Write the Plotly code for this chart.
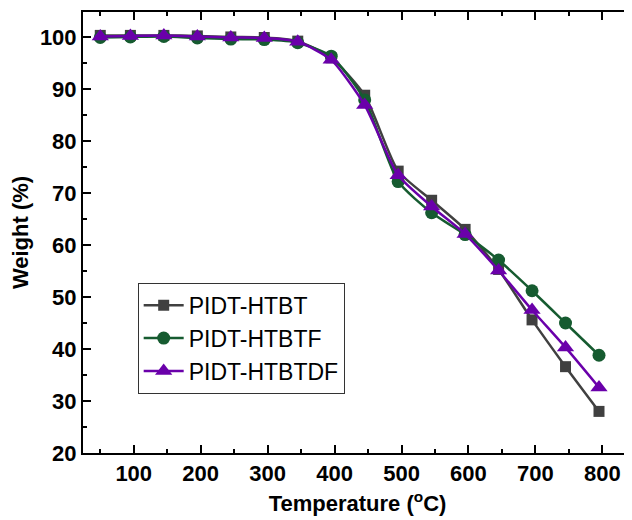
import plotly.graph_objects as go

temperature = [50, 95, 145, 195, 245, 295, 345, 395, 445, 495, 545, 595, 645, 695, 745, 795]
htbt = [100.3, 100.3, 100.3, 100.2, 100.0, 99.9, 99.2, 96.0, 88.8, 74.2, 68.6, 63.0, 55.3, 45.6, 36.6, 28.0]
htbtf = [99.9, 100.0, 100.1, 99.8, 99.6, 99.5, 98.9, 96.3, 87.9, 72.2, 66.2, 62.0, 57.1, 51.2, 45.0, 38.8]
htbtdf = [100.1, 100.2, 100.3, 100.1, 99.9, 99.8, 99.1, 95.6, 86.9, 73.4, 67.4, 62.1, 55.1, 47.5, 40.3, 32.6]

series = [
    ("PIDT-HTBT", htbt, "#404040", "square", 11),
    ("PIDT-HTBTF", htbtf, "#165b30", "circle", 13),
    ("PIDT-HTBTDF", htbtdf, "#6a00aa", "triangle-up", 15),
]

fig = go.Figure()
# invisible companion trace so that the right-hand tick axis is drawn
fig.add_trace(go.Scatter(
    x=temperature, y=htbt, yaxis="y2", mode="lines", showlegend=False,
    hoverinfo="skip", opacity=0, line=dict(width=0),
))
for name, vals, color, sym, size in series:
    fig.add_trace(go.Scatter(
        x=temperature, y=vals, name=name, mode="lines+markers",
        line=dict(color=color, width=2.5, shape="spline", smoothing=0.6),
        marker=dict(symbol=sym, size=size, color=color),
    ))

tick_font = dict(family="Arial, Liberation Sans", size=22, color="black", weight="bold")
axis_common = dict(
    showline=True, linecolor="black", linewidth=2,
    ticks="inside", ticklen=8, tickwidth=2, tickcolor="black",
    showgrid=False, zeroline=False, automargin=False,
    tickfont=tick_font,
)

fig.update_layout(
    xaxis=dict(
        range=[24.2, 844.3], tick0=0, dtick=100, mirror="ticks", **axis_common,
        minor=dict(ticks="inside", ticklen=4, tickwidth=2, tickcolor="black", dtick=50, tick0=0),
        title=dict(text="Temperature (<sup>o</sup>C)", standoff=10,
                   font=dict(family="Arial, Liberation Sans", size=22, color="black", weight="bold")),
    ),
    yaxis=dict(
        range=[20, 104.8], tick0=20, dtick=10, mirror=False, **axis_common,
        minor=dict(ticks="inside", ticklen=4, tickwidth=2, tickcolor="black", dtick=5, tick0=20),
        title=dict(text="Weight (%)", standoff=8,
                   font=dict(family="Arial, Liberation Sans", size=22, color="black", weight="bold")),
    ),
    yaxis2=dict(
        overlaying="y", side="right", anchor="x",
        range=[20, 104.8], tick0=20, dtick=10, automargin=False,
        showline=False, showticklabels=False, showgrid=False, zeroline=False,
        ticks="inside", ticklen=8, tickwidth=2, tickcolor="black",
        minor=dict(ticks="inside", ticklen=4, tickwidth=2, tickcolor="#bbbbbb", dtick=5, tick0=20),
    ),
)

fig.update_layout(
    width=624, height=512,
    margin=dict(l=75, r=0, t=4, b=67, autoexpand=False),
    plot_bgcolor="white", paper_bgcolor="white",
    legend=dict(
        x=0.0996, y=0.386, xanchor="left", yanchor="top",
        bordercolor="#333333", borderwidth=1, bgcolor="white",
        font=dict(family="Arial, Liberation Sans", size=23, color="black"),
        tracegroupgap=0, itemwidth=40,
    ),
    showlegend=True,
)

fig.write_html("out.html")
